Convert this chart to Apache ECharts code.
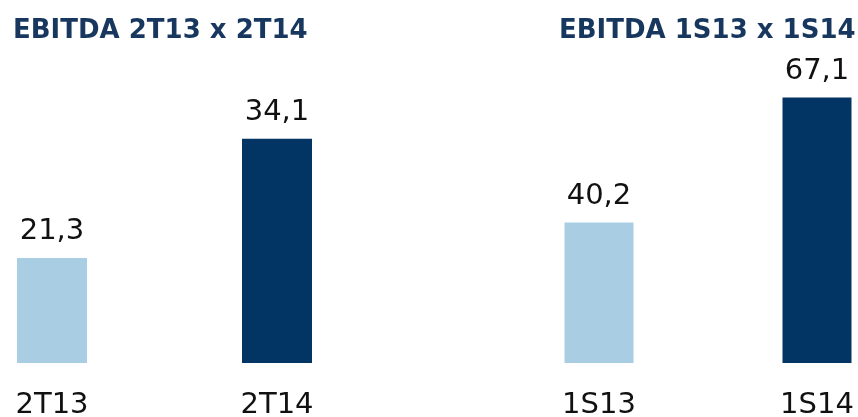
<!DOCTYPE html>
<html>
<head>
<meta charset="utf-8">
<script src="https://cdn.jsdelivr.net/npm/echarts@6/dist/echarts.min.js"></script>
<style>
  html, body { margin: 0; padding: 0; background: #fff; }
  #demo { width: 858px; height: 417px; }
</style>
</head>
<body>
<div id="demo"></div>
<script>
// dados
var quarterCats = ['2T13', '2T14'];
var quarterVals = [21.3, 34.1];
var semesterCats = ['1S13', '1S14'];
var semesterVals = [40.2, 67.1];
var barColors = ['#A9CDE3', '#023563'];

window.onload = function() {
    var font = 'DejaVu Sans';
    function fmt(p) { return String(p.value).replace('.', ','); }
    function colorOf(p) { return barColors[p.dataIndex]; }

    var option = {
        animation: false,
        title: [{
            text: 'EBITDA 2T13 x 2T14',
            left: 13, top: 18, padding: 0,
            textStyle: { fontFamily: font, fontSize: 26, fontWeight: 'bold', color: '#17375E' }
        }, {
            text: 'EBITDA 1S13 x 1S14',
            left: 559, top: 18, padding: 0,
            textStyle: { fontFamily: font, fontSize: 26, fontWeight: 'bold', color: '#17375E' }
        }],
        // category centres sit on the grid edges (boundaryGap false)
        grid: [
            { left: 52, width: 225, top: 84, height: 279, outerBoundsMode: 'none' },
            { left: 599, width: 218, top: 84, height: 279, outerBoundsMode: 'none' }
        ],
        xAxis: [{
            type: 'category', gridIndex: 0, data: quarterCats, boundaryGap: false,
            axisLine: { show: false }, axisTick: { show: false },
            axisLabel: { interval: 0, margin: 28, fontFamily: font, fontSize: 29, color: '#111' }
        }, {
            type: 'category', gridIndex: 1, data: semesterCats, boundaryGap: false,
            axisLine: { show: false }, axisTick: { show: false },
            axisLabel: { interval: 0, margin: 28, fontFamily: font, fontSize: 29, color: '#111' }
        }],
        yAxis: [
            { type: 'value', gridIndex: 0, min: 10, max: 40, startValue: 10, show: false, splitLine: { show: false } },
            { type: 'value', gridIndex: 1, min: 10, max: 70, startValue: 10, show: false, splitLine: { show: false } }
        ],
        series: [{
            type: 'bar', xAxisIndex: 0, yAxisIndex: 0, data: quarterVals,
            barWidth: 70, clip: false,
            itemStyle: { color: colorOf },
            label: { show: true, position: 'top', distance: 12, formatter: fmt,
                     fontFamily: font, fontSize: 29, color: '#111' }
        }, {
            type: 'bar', xAxisIndex: 1, yAxisIndex: 1, data: semesterVals,
            barWidth: 69, clip: false,
            itemStyle: { color: colorOf },
            label: { show: true, position: 'top', distance: 12, formatter: fmt,
                     fontFamily: font, fontSize: 29, color: '#111' }
        }]
    };
    var myChart = echarts.init(document.getElementById('demo'));
    myChart.setOption(option);
};
</script>
</body>
</html>
